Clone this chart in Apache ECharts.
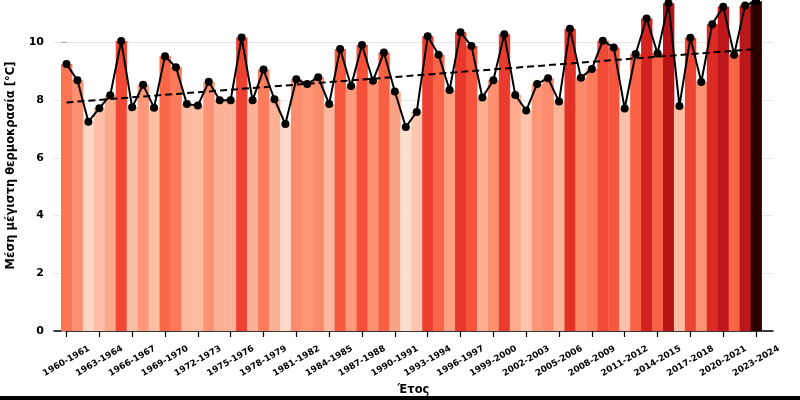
<!DOCTYPE html>
<html>
<head>
<meta charset="utf-8">
<script src="https://cdn.jsdelivr.net/npm/echarts@6/dist/echarts.min.js"></script>
<style>html,body{margin:0;padding:0;background:#fff}#c{width:800px;height:400px}</style>
</head>
<body>
<div id="c"></div>
<script>
const firstYear = 1960;
const seasons = Array.from({length: 64}, (_, i) => (firstYear + i) + '-' + (firstYear + i + 1));
const tempValues = [
  9.25, 8.69, 7.25, 7.72, 8.17, 10.05, 7.75, 8.53, 7.74, 9.52,
  9.14, 7.87, 7.81, 8.64, 8.00, 8.00, 10.17, 8.00, 9.06, 8.03,
  7.17, 8.72, 8.56, 8.79, 7.87, 9.77, 8.49, 9.91, 8.67, 9.65,
  8.30, 7.07, 7.59, 10.21, 9.57, 8.35, 10.35, 9.88, 8.09, 8.69,
  10.28, 8.18, 7.64, 8.56, 8.76, 7.95, 10.47, 8.78, 9.08, 10.06,
  9.82, 7.71, 9.60, 10.83, 9.62, 11.36, 7.80, 10.16, 8.63, 10.63,
  11.24, 9.57, 11.28, 11.43
];
// trend line values at first and last season
const trendEnds = [7.92, 9.77];
const labelStep = 3;
const yTicks = [0, 2, 4, 6, 8, 10];

const labelIdx = [];
for (let i = 0; i < seasons.length; i += labelStep) labelIdx.push(i);

const trendData = [[0, trendEnds[0]], [seasons.length - 1, trendEnds[1]]];
const pts = tempValues.map((v, i) => [i, v]);

// colour scale (Reds-like), with the warmest season in near black
const cmin = 6.9, cmax = 11.4;
const cstops = ['#fee5d9', '#fdd0bc', '#fcb79c', '#fc9e80', '#fc8565', '#fb6d4d', '#f5523a', '#e6352a', '#d0201f', '#b5131a'];
const hottest = '#2b0000';
function hex2rgb(h) { return [1, 3, 5].map(k => parseInt(h.substr(k, 2), 16)); }
function colorFor(v) {
  if (v > cmax) return hottest;
  let t = (v - cmin) / (cmax - cmin) * (cstops.length - 1);
  t = Math.max(0, Math.min(cstops.length - 1, t));
  const i = Math.min(cstops.length - 2, Math.floor(t));
  const f = t - i;
  const a = hex2rgb(cstops[i]), b = hex2rgb(cstops[i + 1]);
  const c = a.map((x, k) => Math.round(x + (b[k] - x) * f));
  return 'rgb(' + c.join(',') + ')';
}

const chart = echarts.init(document.getElementById('c'));
chart.setOption({
  animation: false,
  backgroundColor: '#fff',
  textStyle: {fontFamily: 'DejaVu Sans'},
  grid: {left: 54, right: 27, top: 0, bottom: 69, containLabel: false, outerBoundsMode: 'none'},
  xAxis: {
    type: 'value', min: -1.14, max: 64.55,
    name: 'Έτος', nameLocation: 'middle', nameGap: 51,
    nameTextStyle: {fontWeight: 'bold', fontSize: 11.5, color: '#000'},
    axisLine: {show: true, onZero: false, lineStyle: {color: '#000', width: 1.5}},
    axisTick: {show: true, length: 6, customValues: labelIdx, lineStyle: {color: '#000', width: 1.2}},
    axisLabel: {
      customValues: labelIdx, rotate: 30, margin: 30, align: 'center', verticalAlign: 'middle',
      fontWeight: 'bold', fontSize: 8.8, color: '#000',
      formatter: v => seasons[v] || ''
    },
    splitLine: {show: false}
  },
  yAxis: {
    type: 'value', min: 0, max: 11.47, interval: 2,
    name: 'Μέση μέγιστη θερμοκρασία [°C]', nameLocation: 'middle', nameGap: 37,
    nameTextStyle: {fontWeight: 'bold', fontSize: 11.5, color: '#000'},
    axisLine: {show: false},
    axisTick: {show: true, length: 5, customValues: yTicks, lineStyle: {color: '#999'}},
    axisLabel: {customValues: yTicks, fontWeight: 'bold', fontSize: 11, color: '#000', margin: 10},
    splitLine: {show: true, lineStyle: {color: '#e6e6e6', width: 1}}
  },
  series: [
    {type: 'custom', data: pts, z: 1, clip: true,
     encode: {x: 0, y: 1},
     renderItem: (params, api) => {
       const i = api.value(0), v = api.value(1);
       const top = api.coord([i, v]);
       const base = api.coord([i, 0]);
       const w = api.size([1, 0])[0];
       return {
         type: 'rect',
         shape: {x: top[0] - w / 2, y: top[1], width: w + 0.4, height: base[1] - top[1]},
         style: {fill: colorFor(v)}
       };
     }},
    {type: 'line', data: trendData, symbol: 'none', z: 3,
     lineStyle: {color: '#000', width: 2, type: [7, 4]}},
    {type: 'line', data: pts, symbol: 'circle', symbolSize: 8, z: 4,
     itemStyle: {color: '#000'}, lineStyle: {color: '#000', width: 2}}
  ],
  graphic: [{type: 'rect', left: 0, bottom: 0, shape: {width: 800, height: 4}, style: {fill: '#000'}, z: 10}]
});
</script>
</body>
</html>
